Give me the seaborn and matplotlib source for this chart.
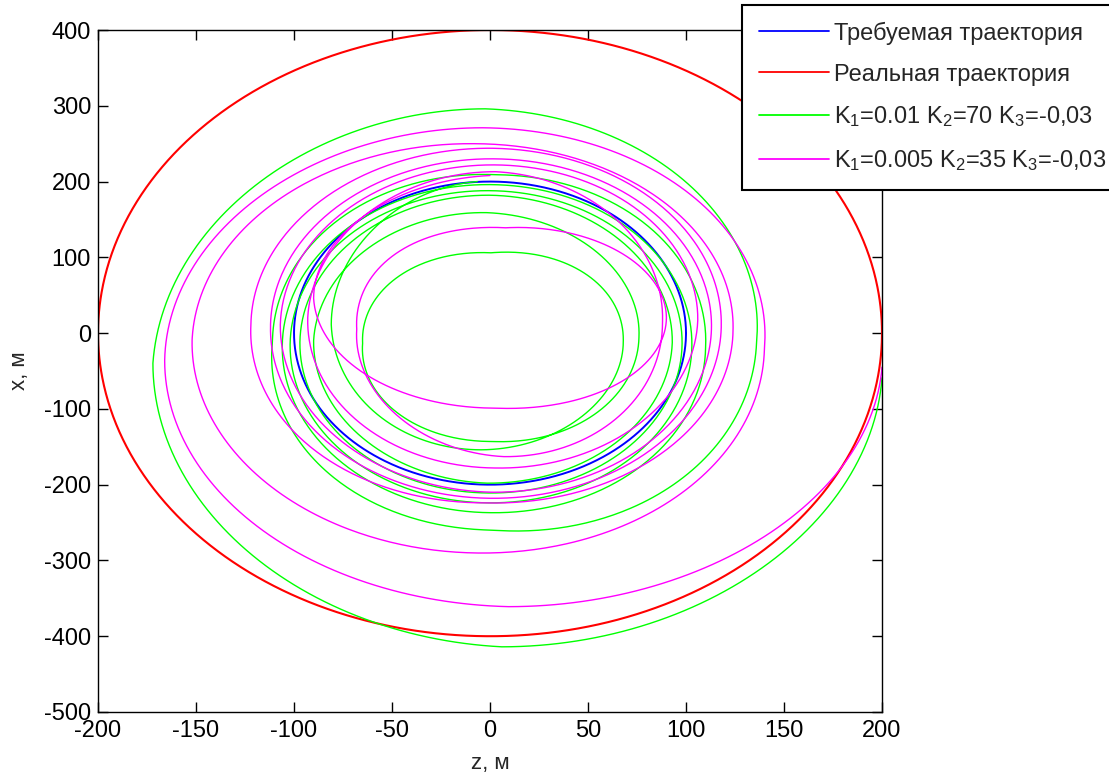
import numpy as np
import pandas as pd
import matplotlib
matplotlib.use("Agg")
import matplotlib.pyplot as plt
import seaborn as sns

# Reference ellipses: semi-axes along z and x (metres)
required_semi = [100, 200]
real_semi = [200, 400]

# Spiral trajectories, counter-clockwise, listed as successive extreme values
# starting at the top and cycling top -> left -> bottom -> right
green_extremes = [200, -81, -154, 68,
                  106, -65, -143, 76,
                  159, -90, -198, 93,
                  182, -97, -211, 98,
                  188, -102, -224, 103,
                  196, -106, -237, 110,
                  209, -111, -260, 136,
                  296, -172, -414, 200]

magenta_extremes = [208, -90, -99, 90,
                    139, -68, -163, 88,
                    213, -93, -178, 106,
                    222, -107, -210, 113,
                    230, -112, -218, 118,
                    244, -122, -224, 124,
                    250, -152, -290, 140,
                    271, -166, -361, 200]

labels = ["Требуемая траектория",
          "Реальная траектория",
          "K$_1$=0.01 K$_2$=70 K$_3$=-0,03",
          "K$_1$=0.005 K$_2$=35 K$_3$=-0,03"]
colors = ["#0000ff", "#ff0000", "#00ff00", "#ff00ff"]
widths = [1.4, 1.5, 1.0, 1.0]

x_ticks = list(range(-200, 201, 50))
y_ticks = list(range(-500, 401, 100))


def ellipse(semi, n=1441):
    t = np.linspace(0, 2 * np.pi, n)
    return pd.DataFrame({"z": semi[0] * np.cos(t), "x": semi[1] * np.sin(t)})


def spiral(extremes, per_quarter=120):
    n = len(extremes)
    phases = np.pi / 2 + np.arange(n) * np.pi / 2
    kinds = np.arange(n) % 4  # 0 top, 1 left, 2 bottom, 3 right
    vals = np.asarray(extremes, dtype=float)
    phi = np.linspace(phases[0], phases[-1], (n - 1) * per_quarter + 1)

    def track(k):
        m = kinds == k
        return np.interp(phi, phases[m], vals[m])

    top, left, bottom, right = track(0), track(1), track(2), track(3)
    zc, a = (right + left) / 2, (right - left) / 2
    xc, b = (top + bottom) / 2, (top - bottom) / 2
    return pd.DataFrame({"z": zc + a * np.cos(phi), "x": xc + b * np.sin(phi)})


sns.set_style("ticks")
plt.rcParams["font.family"] = ["Liberation Sans", "DejaVu Sans"]
plt.rcParams["mathtext.fontset"] = "custom"
plt.rcParams["mathtext.rm"] = "Liberation Sans"
plt.rcParams["mathtext.it"] = "Liberation Sans"
plt.rcParams["axes.unicode_minus"] = False

fig = plt.figure(figsize=(11.09, 7.80), dpi=100)
ax = fig.add_axes([0.0884, 0.0872, 0.7069, 0.8743])

curves = [ellipse(required_semi), ellipse(real_semi),
          spiral(green_extremes), spiral(magenta_extremes)]
for df, lab, col, lw in zip(curves, labels, colors, widths):
    sns.lineplot(data=df, x="z", y="x", sort=False, estimator=None,
                 color=col, linewidth=lw, label=lab, ax=ax)

ax.set_xlim(-200, 200)
ax.set_ylim(-500, 400)
ax.set_xticks(x_ticks)
ax.set_yticks(y_ticks)
ax.tick_params(direction="in", top=True, right=True, length=7, width=1,
               labelsize=17, colors="black")
ax.tick_params(axis="x", pad=6)
ax.tick_params(axis="y", pad=5)
for s in ax.spines.values():
    s.set_linewidth(1.0)
    s.set_color("black")

ax.set_xlabel("z, м", fontsize=16, labelpad=8)
ax.set_ylabel("x, м", fontsize=16, labelpad=10)

leg = ax.legend(loc="upper left", bbox_to_anchor=(0.8214, 1.0367),
                borderaxespad=0, fontsize=17, frameon=True, fancybox=False,
                framealpha=1, edgecolor="black", handlelength=3.0,
                handletextpad=0.2, labelspacing=0.8, borderpad=0.7)
leg.get_frame().set_linewidth(1.5)
for line in leg.get_lines():
    line.set_linewidth(1.3)

fig.savefig("out.png", dpi=100)
